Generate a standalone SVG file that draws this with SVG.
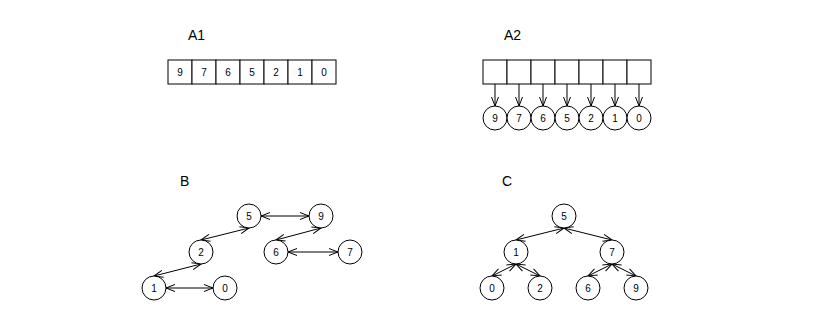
<svg xmlns="http://www.w3.org/2000/svg" width="816" height="324" viewBox="0 0 816 324">
<style>
.lbl{font-family:"Liberation Sans",Arial,sans-serif;font-size:14px;fill:#000}
.t{font-family:"Liberation Sans",Arial,sans-serif;font-size:10px;fill:#000;text-anchor:middle}
.box{fill:#fff;stroke:#000;stroke-width:1}
.n{fill:#fff;stroke:#000;stroke-width:1}
.e{fill:none;stroke:#000;stroke-width:1;marker-end:url(#ah)}
.d{fill:none;stroke:#000;stroke-width:1;marker-start:url(#ah);marker-end:url(#ah)}
</style>
<defs>
<marker id="ah" markerUnits="userSpaceOnUse" viewBox="-11 -5 12 10" refX="0" refY="0" markerWidth="12" markerHeight="10" orient="auto-start-reverse">
<path d="M-9,-3.5 L0,0 L-9,3.5" fill="none" stroke="#000" stroke-width="1"/>
</marker>
</defs>
<rect width="816" height="324" fill="#fff"/>
<text class="lbl" x="188" y="40">A1</text>
<text class="lbl" x="504" y="40">A2</text>
<text class="lbl" x="180" y="186">B</text>
<text class="lbl" x="502" y="186">C</text>
<g id="A1">
<rect class="box" x="168" y="60" width="24" height="24"/><text class="t" x="180" y="76">9</text>
<rect class="box" x="192" y="60" width="24" height="24"/><text class="t" x="204" y="76">7</text>
<rect class="box" x="216" y="60" width="24" height="24"/><text class="t" x="228" y="76">6</text>
<rect class="box" x="240" y="60" width="24" height="24"/><text class="t" x="252" y="76">5</text>
<rect class="box" x="264" y="60" width="24" height="24"/><text class="t" x="276" y="76">2</text>
<rect class="box" x="288" y="60" width="24" height="24"/><text class="t" x="300" y="76">1</text>
<rect class="box" x="312" y="60" width="24" height="24"/><text class="t" x="324" y="76">0</text>
</g>
<g id="A2">
<rect class="box" x="483" y="60" width="24" height="24"/>
<rect class="box" x="507" y="60" width="24" height="24"/>
<rect class="box" x="531" y="60" width="24" height="24"/>
<rect class="box" x="555" y="60" width="24" height="24"/>
<rect class="box" x="579" y="60" width="24" height="24"/>
<rect class="box" x="603" y="60" width="24" height="24"/>
<rect class="box" x="627" y="60" width="24" height="24"/>
</g>
<g id="A2-nodes">
<g id="a2n9"><circle class="n" cx="495" cy="118" r="12"/><text class="t" x="495" y="121.5">9</text></g>
<g id="a2n7"><circle class="n" cx="519" cy="118" r="12"/><text class="t" x="519" y="121.5">7</text></g>
<g id="a2n6"><circle class="n" cx="543" cy="118" r="12"/><text class="t" x="543" y="121.5">6</text></g>
<g id="a2n5"><circle class="n" cx="567" cy="118" r="12"/><text class="t" x="567" y="121.5">5</text></g>
<g id="a2n2"><circle class="n" cx="591" cy="118" r="12"/><text class="t" x="591" y="121.5">2</text></g>
<g id="a2n1"><circle class="n" cx="615" cy="118" r="12"/><text class="t" x="615" y="121.5">1</text></g>
<g id="a2n0"><circle class="n" cx="639" cy="118" r="12"/><text class="t" x="639" y="121.5">0</text></g>
</g>
<g id="connectors">
<line class="e" x1="495" y1="84" x2="495" y2="106"/>
<line class="e" x1="519" y1="84" x2="519" y2="106"/>
<line class="e" x1="543" y1="84" x2="543" y2="106"/>
<line class="e" x1="567" y1="84" x2="567" y2="106"/>
<line class="e" x1="591" y1="84" x2="591" y2="106"/>
<line class="e" x1="615" y1="84" x2="615" y2="106"/>
<line class="e" x1="639" y1="84" x2="639" y2="106"/>
<!-- B -->
<line class="d" x1="261" y1="216" x2="309" y2="216"/>
<line class="d" x1="249" y1="228" x2="201" y2="240"/>
<line class="d" x1="321" y1="228" x2="276" y2="240"/>
<line class="d" x1="288" y1="252" x2="338" y2="252"/>
<line class="d" x1="201" y1="264" x2="154" y2="276"/>
<line class="d" x1="166" y1="288" x2="213" y2="288"/>
<!-- C -->
<line class="d" x1="564" y1="228" x2="516" y2="240"/>
<line class="d" x1="564" y1="228" x2="612" y2="240"/>
<line class="d" x1="516" y1="264" x2="492" y2="276"/>
<line class="d" x1="516" y1="264" x2="540" y2="276"/>
<line class="d" x1="612" y1="264" x2="588" y2="276"/>
<line class="d" x1="612" y1="264" x2="636" y2="276"/>
</g>
<g id="B-nodes">
<g id="b5"><circle class="n" cx="249" cy="216" r="12"/><text class="t" x="249" y="219.5">5</text></g>
<g id="b9"><circle class="n" cx="321" cy="216" r="12"/><text class="t" x="321" y="219.5">9</text></g>
<g id="b2"><circle class="n" cx="201" cy="252" r="12"/><text class="t" x="201" y="255.5">2</text></g>
<g id="b6"><circle class="n" cx="276" cy="252" r="12"/><text class="t" x="276" y="255.5">6</text></g>
<g id="b7"><circle class="n" cx="350" cy="252" r="12"/><text class="t" x="350" y="255.5">7</text></g>
<g id="b1"><circle class="n" cx="154" cy="288" r="12"/><text class="t" x="154" y="291.5">1</text></g>
<g id="b0"><circle class="n" cx="225" cy="288" r="12"/><text class="t" x="225" y="291.5">0</text></g>
</g>
<g id="C-nodes">
<g id="c5"><circle class="n" cx="564" cy="216" r="12"/><text class="t" x="564" y="219.5">5</text></g>
<g id="c1"><circle class="n" cx="516" cy="252" r="12"/><text class="t" x="516" y="255.5">1</text></g>
<g id="c7"><circle class="n" cx="612" cy="252" r="12"/><text class="t" x="612" y="255.5">7</text></g>
<g id="c0"><circle class="n" cx="492" cy="288" r="12"/><text class="t" x="492" y="291.5">0</text></g>
<g id="c2"><circle class="n" cx="540" cy="288" r="12"/><text class="t" x="540" y="291.5">2</text></g>
<g id="c6"><circle class="n" cx="588" cy="288" r="12"/><text class="t" x="588" y="291.5">6</text></g>
<g id="c9"><circle class="n" cx="636" cy="288" r="12"/><text class="t" x="636" y="291.5">9</text></g>
</g>
</svg>
